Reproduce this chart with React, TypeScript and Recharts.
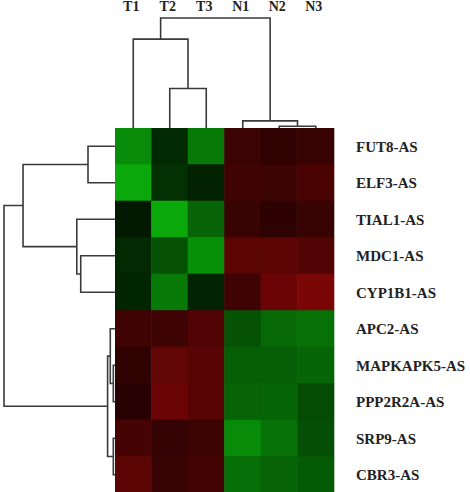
import { BarChart, Bar, Cell, XAxis, YAxis, ScatterChart, Scatter } from "recharts"

const samples = ["T1", "T2", "T3", "N1", "N2", "N3"]

const genes = [
  "FUT8-AS",
  "ELF3-AS",
  "TIAL1-AS",
  "MDC1-AS",
  "CYP1B1-AS",
  "APC2-AS",
  "MAPKAPK5-AS",
  "PPP2R2A-AS",
  "SRP9-AS",
  "CBR3-AS",
]

// expression per gene, T1..N3 (negative = green, positive = red)
const fut8 = [-0.82, -0.25, -0.72, 0.45, 0.37, 0.43]
const elf3 = [-0.99, -0.29, -0.2, 0.49, 0.46, 0.57]
const tial1 = [-0.15, -0.99, -0.58, 0.42, 0.35, 0.43]
const mdc1 = [-0.24, -0.48, -0.84, 0.69, 0.71, 0.62]
const cyp1b1 = [-0.22, -0.72, -0.21, 0.49, 0.82, 0.94]
const apc2 = [0.49, 0.48, 0.63, -0.48, -0.62, -0.66]
const mapkapk5 = [0.37, 0.75, 0.68, -0.56, -0.55, -0.6]
const ppp2r2a = [0.31, 0.82, 0.68, -0.58, -0.6, -0.44]
const srp9 = [0.54, 0.4, 0.46, -0.82, -0.67, -0.46]
const cbr3 = [0.69, 0.42, 0.52, -0.65, -0.58, -0.53]

const values = [fut8, elf3, tial1, mdc1, cyp1b1, apc2, mapkapk5, ppp2r2a, srp9, cbr3]

// linkage: [childA, childB, height]; leaves are 0..n-1, merges n, n+1, ...
const colLinks = [
  [1, 2, 0.365],
  [0, 6, 0.81],
  [4, 5, 0.025],
  [3, 8, 0.073],
  [7, 9, 1.0],
]

const rowLinks = [
  [0, 1, 0.25],
  [3, 4, 0.315],
  [2, 11, 0.35],
  [10, 12, 0.83],
  [6, 7, 0.024],
  [5, 14, 0.051],
  [8, 9, 0.024],
  [15, 16, 0.075],
  [13, 17, 1.0],
]

const rows = genes.map((gene) => {
  const r: Record<string, any> = { gene }
  samples.forEach((s) => (r[s] = 1))
  return r
})

function heatColor(v: number) {
  const a = Math.abs(v)
  if (v < 0) {
    const g = Math.round(a * 170)
    const o = Math.round(a * 10)
    return `rgb(${o},${g},${o})`
  }
  const r = Math.round(a * 130)
  const o = Math.round(a * 6)
  return `rgb(${r},${o},${o})`
}

// each merge gives one bracket: leftChild -> up -> across -> down -> rightChild
function brackets(links: number[][], n: number) {
  const pos: number[] = []
  const h: number[] = []
  for (let i = 0; i < n; i++) {
    pos.push(i + 0.5)
    h.push(0)
  }
  const out: { p: number; h: number }[][] = []
  links.forEach(([a, b, height]) => {
    out.push([
      { p: pos[a], h: h[a] },
      { p: pos[a], h: height },
      { p: pos[b], h: height },
      { p: pos[b], h: h[b] },
    ])
    pos.push((pos[a] + pos[b]) / 2)
    h.push(height)
  })
  return out
}

const lineColor = "#3a3a3a"
const serif = "'Liberation Serif', 'Times New Roman', serif"
const noDot = () => null

function GeneTick(props: any) {
  const { x, y, payload } = props
  return (
    <text x={x} y={y} dy="0.35em" textAnchor="start" fontFamily={serif} fontWeight="bold" fontSize={15} fill="#222">
      {payload.value}
    </text>
  )
}

function SampleTick(props: any) {
  const { x, payload } = props
  return (
    <text x={x - 2} y={11} textAnchor="middle" fontFamily={serif} fontWeight="bold" fontSize={14} fill="#222">
      {samples[Math.floor(payload.value)]}
    </text>
  )
}

export default function App() {
  const colBr = brackets(colLinks, samples.length).map((b) => b.map((q) => ({ x: q.p, y: q.h })))
  const rowBr = brackets(rowLinks, genes.length).map((b) => b.map((q) => ({ x: q.h, y: q.p })))
  return (
    <div style={{ position: "fixed", left: 0, top: 0, width: 470, height: 492, background: "#fff", overflow: "hidden" }}>
      <div style={{ position: "absolute", left: 115, top: 0 }}>
        <ScatterChart width={219} height={129} margin={{ top: 0, right: 0, bottom: 0, left: 0 }}>
          <XAxis
            type="number"
            dataKey="x"
            domain={[0, 6]}
            orientation="top"
            height={18}
            ticks={[0.5, 1.5, 2.5, 3.5, 4.5, 5.5]}
            axisLine={false}
            tickLine={false}
            tick={<SampleTick />}
            interval={0}
          />
          <YAxis type="number" dataKey="y" domain={[0, 1]} hide />
          {colBr.map((d, i) => (
            <Scatter
              key={i}
              data={d}
              line={{ stroke: lineColor, strokeWidth: 1.6 }}
              lineJointType="linear"
              shape={noDot}
              isAnimationActive={false}
            />
          ))}
        </ScatterChart>
      </div>

      <div style={{ position: "absolute", left: 0, top: 128 }}>
        <ScatterChart width={116} height={365} margin={{ top: 0, right: 0, bottom: 0, left: 4 }}>
          <XAxis type="number" dataKey="x" domain={[0, 1]} reversed hide />
          <YAxis type="number" dataKey="y" domain={[0, 10]} reversed hide />
          {rowBr.map((d, i) => (
            <Scatter
              key={i}
              data={d}
              line={{ stroke: lineColor, strokeWidth: 1.6 }}
              lineJointType="linear"
              shape={noDot}
              isAnimationActive={false}
            />
          ))}
        </ScatterChart>
      </div>

      <div style={{ position: "absolute", left: 115, top: 128 }}>
        <BarChart
          width={355}
          height={365}
          data={rows}
          layout="vertical"
          margin={{ top: 0, right: 0, bottom: 0, left: 0 }}
          barCategoryGap={0}
          barGap={0}
        >
          <XAxis type="number" domain={[0, 6]} hide />
          <YAxis
            type="category"
            dataKey="gene"
            orientation="right"
            width={136}
            axisLine={false}
            tickLine={false}
            tickSize={0}
            tickMargin={22}
            interval={0}
            tick={<GeneTick />}
          />
          {samples.map((s, j) => (
            <Bar key={s} dataKey={s} stackId="heat" isAnimationActive={false}>
              {rows.map((_, i) => (
                <Cell key={i} fill={heatColor(values[i][j])} stroke={heatColor(values[i][j])} strokeWidth={0.6} />
              ))}
            </Bar>
          ))}
        </BarChart>
      </div>
    </div>
  )
}
